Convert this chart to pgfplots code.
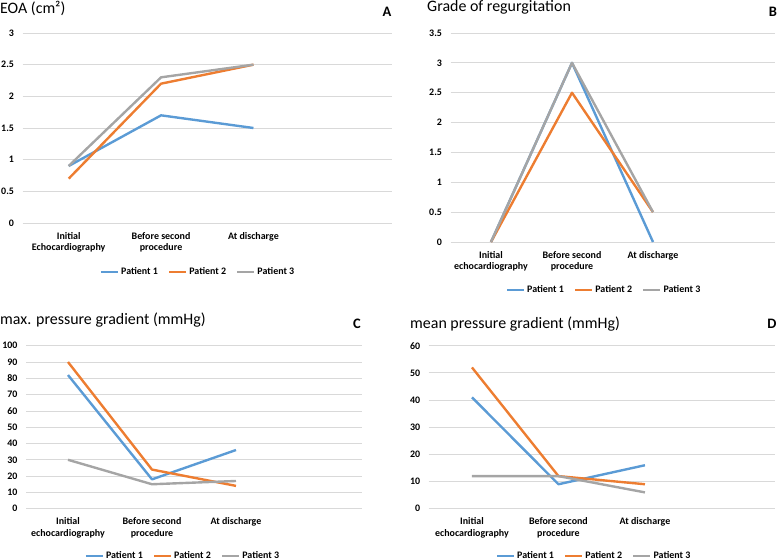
\documentclass[border=0pt]{standalone}
\usepackage{fontspec}
\setmainfont{Carlito}
\usepackage{pgfplots}
\pgfplotsset{compat=1.18}

\definecolor{pblue}{RGB}{91,155,213}
\definecolor{porange}{RGB}{237,125,49}
\definecolor{pgray}{RGB}{165,165,165}
\definecolor{gridgray}{RGB}{217,217,217}

\newcommand{\smallfont}{\fontsize{10}{12}\selectfont\bfseries}
\newcommand{\titlefont}{\fontsize{16}{18}\selectfont}
\newcommand{\letterfont}{\fontsize{14.5}{16}\selectfont\bfseries}

\pgfplotsset{
  panel/.style={
    scale only axis,
    anchor=south west,
    xmin=-0.5, xmax=3.5,
    xtick={0,1,2},
    axis line style={draw=none},
    major tick length=0pt,
    ymajorgrids,
    grid style={draw=gridgray, line width=0.8pt},
    tick label style={font=\smallfont},
    xticklabel style={align=center, yshift=-5.5bp},
    yticklabel style={xshift=-5bp},
    /pgf/number format/assume math mode=true,
    clip=false,
    legend columns=3,
    legend style={draw=none, fill=none, font=\smallfont, anchor=center,
      /tikz/every even column/.append style={column sep=8bp}},
    legend image code/.code={\draw[##1] (0bp,0bp) -- (17bp,0bp);},
    every axis plot/.append style={line width=2.4pt, line join=round},
  }
}

\begin{document}
\begin{tikzpicture}
\path[use as bounding box] (0,0) rectangle (778bp,560bp);

% A: EOA
\begin{axis}[panel,
    at={(22.5bp,337bp)}, width=369.5bp, height=190bp,
    ymin=0, ymax=3, ytick={0,0.5,1,1.5,2,2.5,3},
    xticklabels={Initial\\Echocardiography, Before second\\procedure, At discharge},
    legend style={at={(0.475,-0.258)}}]
\addplot[pblue] coordinates {(0,0.9) (1,1.7) (2,1.5)};
\addlegendentry{Patient 1}
\addplot[porange] coordinates {(0,0.7) (1,2.2) (2,2.5)};
\addlegendentry{Patient 2}
\addplot[pgray] coordinates {(0,0.9) (1,2.3) (2,2.5)};
\addlegendentry{Patient 3}
\end{axis}

% B: grade of regurgitation
\begin{axis}[panel,
    at={(450.5bp,318bp)}, width=324bp, height=209bp,
    ymin=0, ymax=3.5, ytick={0,0.5,1,1.5,2,2.5,3,3.5},
    xticklabels={Initial\\echocardiography, Before second\\procedure, At discharge},
    legend style={at={(0.474,-0.23)}}]
\addplot[pblue] coordinates {(0,0) (1,3) (2,0)};
\addlegendentry{Patient 1}
\addplot[porange] coordinates {(0,0) (1,2.5) (2,0.5)};
\addlegendentry{Patient 2}
\addplot[pgray] coordinates {(0,0) (1,3) (2,0.5)};
\addlegendentry{Patient 3}
\end{axis}

% C: max pressure gradient
\begin{axis}[panel,
    at={(26bp,51.3bp)}, width=336bp, height=163bp,
    ymin=0, ymax=100, ytick={0,10,...,100},
    xticklabels={Initial\\echocardiography, Before second\\procedure, At discharge},
    legend style={at={(0.467,-0.29)}}]
\addplot[pblue] coordinates {(0,82) (1,18) (2,36)};
\addlegendentry{Patient 1}
\addplot[porange] coordinates {(0,90) (1,24) (2,14)};
\addlegendentry{Patient 2}
\addplot[pgray] coordinates {(0,30) (1,15) (2,17)};
\addlegendentry{Patient 3}
\end{axis}

% D: mean pressure gradient
\begin{axis}[panel,
    at={(428.7bp,51.3bp)}, width=346bp, height=163bp,
    ymin=0, ymax=60, ytick={0,10,...,60},
    xticklabels={Initial\\echocardiography, Before second\\procedure, At discharge},
    legend style={at={(0.478,-0.29)}}]
\addplot[pblue] coordinates {(0,41) (1,9) (2,16)};
\addlegendentry{Patient 1}
\addplot[porange] coordinates {(0,52) (1,12) (2,9)};
\addlegendentry{Patient 2}
\addplot[pgray] coordinates {(0,12) (1,12) (2,6)};
\addlegendentry{Patient 3}
\end{axis}

% titles and panel letters
\node[anchor=west, inner sep=0pt, font=\titlefont] at (0bp,552bp) {EOA (cm²)};
\node[anchor=west, inner sep=0pt, font=\titlefont] at (427bp,553bp) {Grade of regurgitation};
\node[anchor=west, inner sep=0pt, font=\titlefont] at (0bp,240bp) {max. pressure gradient (mmHg)};
\node[anchor=west, inner sep=0pt, font=\titlefont] at (410bp,236bp) {mean pressure gradient (mmHg)};
\node[font=\letterfont, inner sep=0pt] at (387bp,548bp) {A};
\node[font=\letterfont, inner sep=0pt] at (773bp,548bp) {B};
\node[font=\letterfont, inner sep=0pt] at (357bp,236bp) {C};
\node[font=\letterfont, inner sep=0pt] at (772bp,236bp) {D};
\end{tikzpicture}
\end{document}
